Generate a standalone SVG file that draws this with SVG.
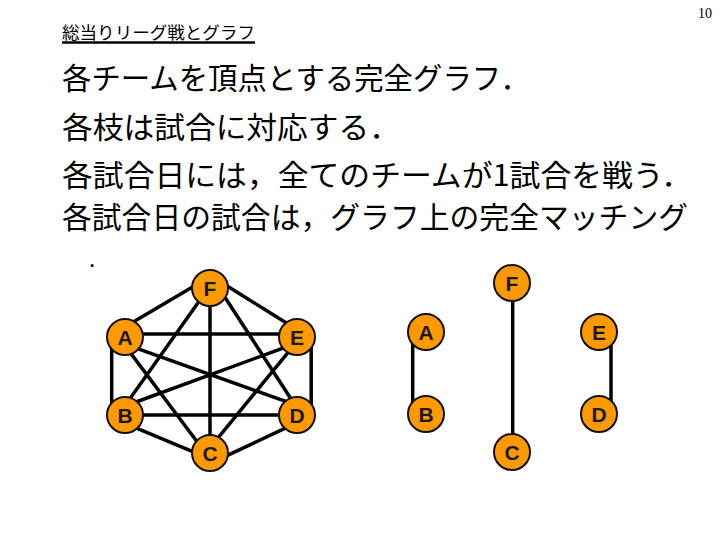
<svg xmlns="http://www.w3.org/2000/svg" width="720" height="540" viewBox="0 0 720 540">
<style>
.pg{font-family:"Liberation Serif",serif;font-size:14px;fill:#000}
.ttl{font-family:"Noto Sans CJK JP","Noto Sans CJK SC",sans-serif;font-size:17px;fill:#000}
.body{font-family:"Noto Sans CJK JP","Noto Sans CJK SC",sans-serif;font-size:30px;fill:#000}
.edge{stroke:#000;stroke-width:3.5;fill:none;stroke-linecap:butt}
.node circle{fill:#FF9900;stroke:#111;stroke-width:2}
.node text{font-family:"Liberation Sans",Arial,sans-serif;font-weight:bold;font-size:21px;fill:#1a1a1a;text-anchor:middle}
</style>
<rect width="720" height="540" fill="#fff"/>
<text class="pg" x="712" y="18" text-anchor="end">10</text>
<g id="title">
<text class="ttl" x="62" y="39" textLength="193" lengthAdjust="spacingAndGlyphs">総当りリーグ戦とグラフ</text>
<line x1="62" y1="42.5" x2="255" y2="42.5" stroke="#000" stroke-width="2.5"/>
</g>
<g id="body-text">
<text class="body" x="62" y="89" textLength="468" lengthAdjust="spacingAndGlyphs">各チームを頂点とする完全グラフ．</text>
<text class="body" x="62" y="138" textLength="338" lengthAdjust="spacingAndGlyphs">各枝は試合に対応する．</text>
<text class="body" x="62" y="186" textLength="630" lengthAdjust="spacingAndGlyphs">各試合日には，全てのチームが1試合を戦う．</text>
<text class="body" x="62" y="228" textLength="626" lengthAdjust="spacingAndGlyphs">各試合日の試合は，グラフ上の完全マッチング</text>
<text x="88.5" y="267" font-family="Liberation Sans, sans-serif" font-size="26" fill="#000">.</text>
</g>
<g id="connectors">
<line class="edge" x1="129.8" y1="324.1" x2="200.2" y2="282.6"/>
<line class="edge" x1="221.5" y1="282.5" x2="288.5" y2="324.2"/>
<line class="edge" x1="135" y1="334" x2="288" y2="334"/>
<line class="edge" x1="111.7" y1="342" x2="111.7" y2="408"/>
<line class="edge" x1="311.2" y1="342" x2="311.2" y2="408"/>
<line class="edge" x1="135" y1="415" x2="288" y2="415"/>
<line class="edge" x1="210" y1="298" x2="210" y2="442"/>
<line class="edge" x1="129.2" y1="345.6" x2="289.2" y2="402.7"/>
<line class="edge" x1="129.2" y1="404.5" x2="294.2" y2="344"/>
<line class="edge" x1="123.5" y1="343.6" x2="203.1" y2="449.7"/>
<line class="edge" x1="204.6" y1="293.5" x2="122.1" y2="409.8"/>
<line class="edge" x1="222.3" y1="293.3" x2="296.1" y2="406.7"/>
<line class="edge" x1="295.1" y1="343.8" x2="209.9" y2="447.9"/>
<line class="edge" x1="129.3" y1="425.2" x2="204.1" y2="456.4"/>
<line class="edge" x1="292.2" y1="424.9" x2="221.1" y2="458.4"/>
<line class="edge" x1="412.7" y1="340" x2="412.7" y2="406"/>
<line class="edge" x1="611" y1="340" x2="611" y2="406"/>
<line class="edge" x1="512.7" y1="292" x2="512.7" y2="444"/>
</g>
<g id="L-F" class="node"><circle cx="210" cy="288" r="18"/><text x="210" y="295.5">F</text></g>
<g id="L-A" class="node"><circle cx="125" cy="337" r="18"/><text x="125" y="344.5">A</text></g>
<g id="L-E" class="node"><circle cx="297" cy="337" r="18"/><text x="297" y="344.5">E</text></g>
<g id="L-B" class="node"><circle cx="125" cy="415" r="18"/><text x="125" y="422.5">B</text></g>
<g id="L-D" class="node"><circle cx="297" cy="415" r="18"/><text x="297" y="422.5">D</text></g>
<g id="L-C" class="node"><circle cx="210" cy="453" r="18"/><text x="210" y="460.5">C</text></g>
<g id="R-F" class="node"><circle cx="512" cy="283" r="18"/><text x="512" y="290.5">F</text></g>
<g id="R-A" class="node"><circle cx="426" cy="332" r="18"/><text x="426" y="339.5">A</text></g>
<g id="R-E" class="node"><circle cx="599" cy="332" r="18"/><text x="599" y="339.5">E</text></g>
<g id="R-B" class="node"><circle cx="426" cy="414" r="18"/><text x="426" y="421.5">B</text></g>
<g id="R-D" class="node"><circle cx="599" cy="414" r="18"/><text x="599" y="421.5">D</text></g>
<g id="R-C" class="node"><circle cx="512" cy="452" r="18"/><text x="512" y="459.5">C</text></g>
</svg>
